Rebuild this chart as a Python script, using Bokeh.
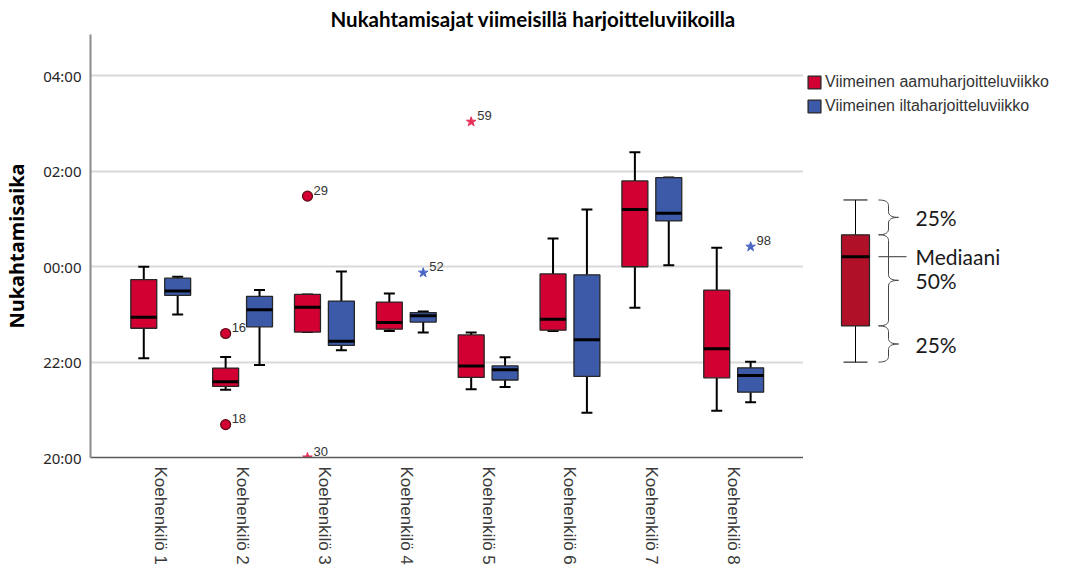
import math
import numpy as np
from bokeh.plotting import figure
from bokeh.layouts import row
from bokeh.models import ColumnDataSource, Range1d, FixedTicker, Legend, LegendItem, Title
from bokeh.core.properties import value
from bokeh.embed import file_html
from bokeh.resources import INLINE

# ---------------- data (hours after 20:00) ----------------
TITLE = "Nukahtamisajat viimeisillä harjoitteluviikoilla"
Y_LABEL = "Nukahtamisaika"
subjects = ["Koehenkilö 1", "Koehenkilö 2", "Koehenkilö 3", "Koehenkilö 4",
            "Koehenkilö 5", "Koehenkilö 6", "Koehenkilö 7", "Koehenkilö 8"]
series_names = ["Viimeinen aamuharjoitteluviikko", "Viimeinen iltaharjoitteluviikko"]
y_ticks = [0, 2, 4, 6, 8]
y_tick_labels = ["20:00", "22:00", "00:00", "02:00", "04:00"]

morning_low = [2.08, 1.42, 2.63, 2.65, 1.43, 2.65, 3.14, 0.98]
morning_q1 = [2.71, 1.49, 2.63, 2.69, 1.68, 2.67, 4.00, 1.67]
morning_med = [2.94, 1.59, 3.15, 2.83, 1.92, 2.90, 5.20, 2.28]
morning_q3 = [3.73, 1.875, 3.42, 3.26, 2.57, 3.85, 5.80, 3.51]
morning_high = [4.00, 2.11, 3.42, 3.44, 2.62, 4.59, 6.40, 4.40]

evening_low = [3.00, 1.94, 2.25, 2.62, 1.48, 0.94, 4.03, 1.16]
evening_q1 = [3.40, 2.74, 2.35, 2.84, 1.625, 1.70, 4.96, 1.37]
evening_med = [3.49, 3.10, 2.44, 2.97, 1.84, 2.47, 5.12, 1.72]
evening_q3 = [3.76, 3.38, 3.28, 3.04, 1.92, 3.83, 5.87, 1.88]
evening_high = [3.79, 3.51, 3.90, 3.06, 2.10, 5.20, 5.87, 2.01]

out_subject = [2, 2, 3, 3, 5, 4, 8]
out_series = [0, 0, 0, 0, 0, 1, 1]
out_value = [2.60, 0.69, 5.48, 0.0, 7.04, 3.875, 4.42]
out_case = ["16", "18", "29", "30", "59", "52", "98"]
out_kind = ["circle", "circle", "circle", "star", "star", "star", "star"]

# schematic key box (same hour scale)
key_low, key_q1, key_med, key_q3, key_high = 2.0, 2.76, 4.21, 4.67, 5.40
key_texts = ["25%", "Mediaani", "50%", "25%"]

# ---------------- styling ----------------
RED = "#d20032"
BLUE = "#3d5aa8"
KEY_RED = "#b01028"
STAR_RED = "#e8305a"
STAR_BLUE = "#4a66c4"
OFF, BW, CW = 0.207, 0.317, 0.134
H = 568
TOP, BOTTOM = 31, 111

p = figure(width=803, height=H, x_range=Range1d(0.142, 8.853), y_range=Range1d(0, 8.87),
           output_backend="svg", toolbar_location=None,
           min_border_left=88, min_border_right=0, min_border_top=TOP, min_border_bottom=BOTTOM)
p.title = Title(text=TITLE, align="left", offset=240, text_font="Lato", text_font_size="20.5px",
                text_font_style="bold", text_color="black", standoff=8, text_line_height=1.0)
p.outline_line_color = None
p.background_fill_color = "white"
p.border_fill_color = "white"

p.xgrid.visible = False
p.ygrid.grid_line_color = "#d9d9d9"
p.ygrid.grid_line_width = 2
p.yaxis.ticker = FixedTicker(ticks=y_ticks)
p.yaxis.major_label_overrides = {t: l for t, l in zip(y_ticks, y_tick_labels)}
p.yaxis.major_label_text_font = "Noto Sans"
p.yaxis.major_label_text_font_size = "15px"
p.yaxis.major_label_text_color = "#262626"
p.yaxis.major_label_standoff = 9
p.yaxis.major_tick_out = 0
p.yaxis.major_tick_in = 0
p.yaxis.minor_tick_out = 0
p.yaxis.minor_tick_in = 0
p.yaxis.axis_line_color = "#8c8c8c"
p.yaxis.axis_line_width = 2
p.yaxis.axis_label = Y_LABEL
p.yaxis.axis_label_text_font = "Noto Sans"
p.yaxis.axis_label_text_font_size = "20px"
p.yaxis.axis_label_text_font_style = "bold"
p.yaxis.axis_label_text_color = "black"
p.yaxis.axis_label_standoff = 10

p.xaxis.ticker = FixedTicker(ticks=list(range(1, 9)))
p.xaxis.major_label_overrides = {i + 1: s for i, s in enumerate(subjects)}
p.xaxis.major_label_orientation = -math.pi / 2
p.xaxis.major_label_text_font = "Liberation Sans"
p.xaxis.major_label_text_font_size = "17px"
p.xaxis.major_label_text_color = "#3a3a3a"
p.xaxis.major_label_standoff = 9
p.xaxis.major_tick_out = 0
p.xaxis.major_tick_in = 0
p.xaxis.minor_tick_out = 0
p.xaxis.minor_tick_in = 0
p.xaxis.axis_line_color = "#595959"
p.xaxis.axis_line_width = 1.5

xs = np.arange(1, 9, dtype=float)


def draw_boxes(xc, lo, q1, med, q3, hi, color):
    src = ColumnDataSource(dict(x=xc, lo=lo, q1=q1, med=med, q3=q3, hi=hi,
                                x0=xc - BW / 2, x1=xc + BW / 2, c0=xc - CW / 2, c1=xc + CW / 2))
    kw = dict(source=src, line_color="black", line_width=2)
    p.segment("x", "q3", "x", "hi", **kw)
    p.segment("x", "q1", "x", "lo", **kw)
    p.segment("c0", "hi", "c1", "hi", **kw)
    p.segment("c0", "lo", "c1", "lo", **kw)
    r = p.vbar(x="x", width=BW, top="q3", bottom="q1", source=src,
               fill_color=color, line_color="#262626", line_width=1.3)
    p.segment("x0", "med", "x1", "med", source=src, line_color="black", line_width=3)
    return r


draw_boxes(xs - OFF, morning_low, morning_q1, morning_med, morning_q3, morning_high, RED)
draw_boxes(xs + OFF, evening_low, evening_q1, evening_med, evening_q3, evening_high, BLUE)

ox = [s + (OFF if ser == 1 else -OFF) for s, ser in zip(out_subject, out_series)]
circ = dict(x=[], y=[])
star_r = dict(x=[], y=[])
star_b = dict(x=[], y=[])
for xv, yv, k, ser in zip(ox, out_value, out_kind, out_series):
    d = circ if k == "circle" else (star_r if ser == 0 else star_b)
    d["x"].append(xv)
    d["y"].append(yv)
p.scatter(x="x", y="y", source=ColumnDataSource(circ), marker="circle", size=10,
          fill_color=RED, line_color="#5a0a14", line_width=1.2)
p.scatter(x="x", y="y", source=ColumnDataSource(star_r), marker="star", size=10,
          fill_color=STAR_RED, line_color=STAR_RED)
p.scatter(x="x", y="y", source=ColumnDataSource(star_b), marker="star", size=10,
          fill_color=STAR_BLUE, line_color=STAR_BLUE)
p.text(x=ox, y=out_value, text=out_case, x_offset=6, y_offset=-6,
       text_font=value("Liberation Sans"), text_font_size="13px", text_color="#333333",
       text_align="left", text_baseline="alphabetic")

# ---------------- right panel: legend + key ----------------
p2 = figure(width=248, height=H, x_range=Range1d(0, 248), y_range=Range1d(0, 8.87),
            output_backend="svg", toolbar_location=None,
            x_axis_location=None, y_axis_location=None,
            min_border_left=0, min_border_right=0, min_border_top=TOP, min_border_bottom=BOTTOM)
p2.outline_line_color = None
p2.xgrid.visible = False
p2.ygrid.visible = False

# legend proxies (placed outside the visible range)
proxy = dict(left=[-50], right=[-40], top=[-5], bottom=[-6])
lr = p2.quad(left="left", right="right", top="top", bottom="bottom", source=ColumnDataSource(proxy),
             fill_color=RED, line_color="#262626", line_width=1.3)
lb = p2.quad(left="left", right="right", top="top", bottom="bottom", source=ColumnDataSource(proxy),
             fill_color=BLUE, line_color="#262626", line_width=1.3)
legend = Legend(items=[LegendItem(label=series_names[0], renderers=[lr]),
                       LegendItem(label=series_names[1], renderers=[lb])],
                location=(0, 339), margin=0, padding=3, spacing=6,
                glyph_width=16, glyph_height=16, label_standoff=3, label_height=16,
                label_text_font="Liberation Sans", label_text_font_size="16px",
                label_text_color="#333333", border_line_alpha=0, background_fill_alpha=0)
p2.add_layout(legend)

KX, KBW, KCW = 52, 28, 24
p2.segment(x0=[KX, KX], y0=[key_q3, key_q1], x1=[KX, KX], y1=[key_high, key_low],
           line_color="black", line_width=1)
p2.segment(x0=[KX - KCW / 2] * 2, y0=[key_high, key_low], x1=[KX + KCW / 2] * 2, y1=[key_high, key_low],
           line_color="black", line_width=1)
p2.vbar(x=[KX], width=KBW, top=[key_q3], bottom=[key_q1], fill_color=KEY_RED,
        line_color="#262626", line_width=1.2)
p2.segment(x0=[KX - KBW / 2], y0=[key_med], x1=[KX + KBW / 2], y1=[key_med],
           line_color="black", line_width=3)
p2.segment(x0=[75], y0=[key_med], x1=[103], y1=[key_med], line_color="#333333", line_width=1)


def qb(p0, c, p1, n=10):
    t = np.linspace(0, 1, n)
    return ((1 - t) ** 2 * p0[0] + 2 * (1 - t) * t * c[0] + t ** 2 * p1[0],
            (1 - t) ** 2 * p0[1] + 2 * (1 - t) * t * c[1] + t ** 2 * p1[1])


def brace(ya, yb, xe=75, xs_=85, xt=95, r=0.12):
    yt = (ya + yb) / 2
    segs = [qb((xe, ya), (xs_, ya), (xs_, ya - r)),
            ([xs_, xs_], [ya - r, yt + r]),
            qb((xs_, yt + r), (xs_, yt), (xt, yt)),
            qb((xt, yt), (xs_, yt), (xs_, yt - r)),
            ([xs_, xs_], [yt - r, yb + r]),
            qb((xs_, yb + r), (xs_, yb), (xe, yb))]
    bx = np.concatenate([np.asarray(s[0], dtype=float) for s in segs])
    by = np.concatenate([np.asarray(s[1], dtype=float) for s in segs])
    return list(bx), list(by), yt


b1 = brace(key_high, key_q3)
b2 = brace(key_q3, key_q1)
b3 = brace(key_q1, key_low)
p2.multi_line(xs=[b1[0], b2[0], b3[0]], ys=[b1[1], b2[1], b3[1]], line_color="#444444", line_width=1)
p2.text(x=[112] * 4, y=[b1[2], key_med, b2[2], b3[2]], text=key_texts,
        text_font=value("Lato"), text_font_size="21px", text_color="#1a1a1a",
        text_align="left", text_baseline="middle")

layout = row(p, p2)
open("out.html", "w").write(file_html(layout, INLINE))
